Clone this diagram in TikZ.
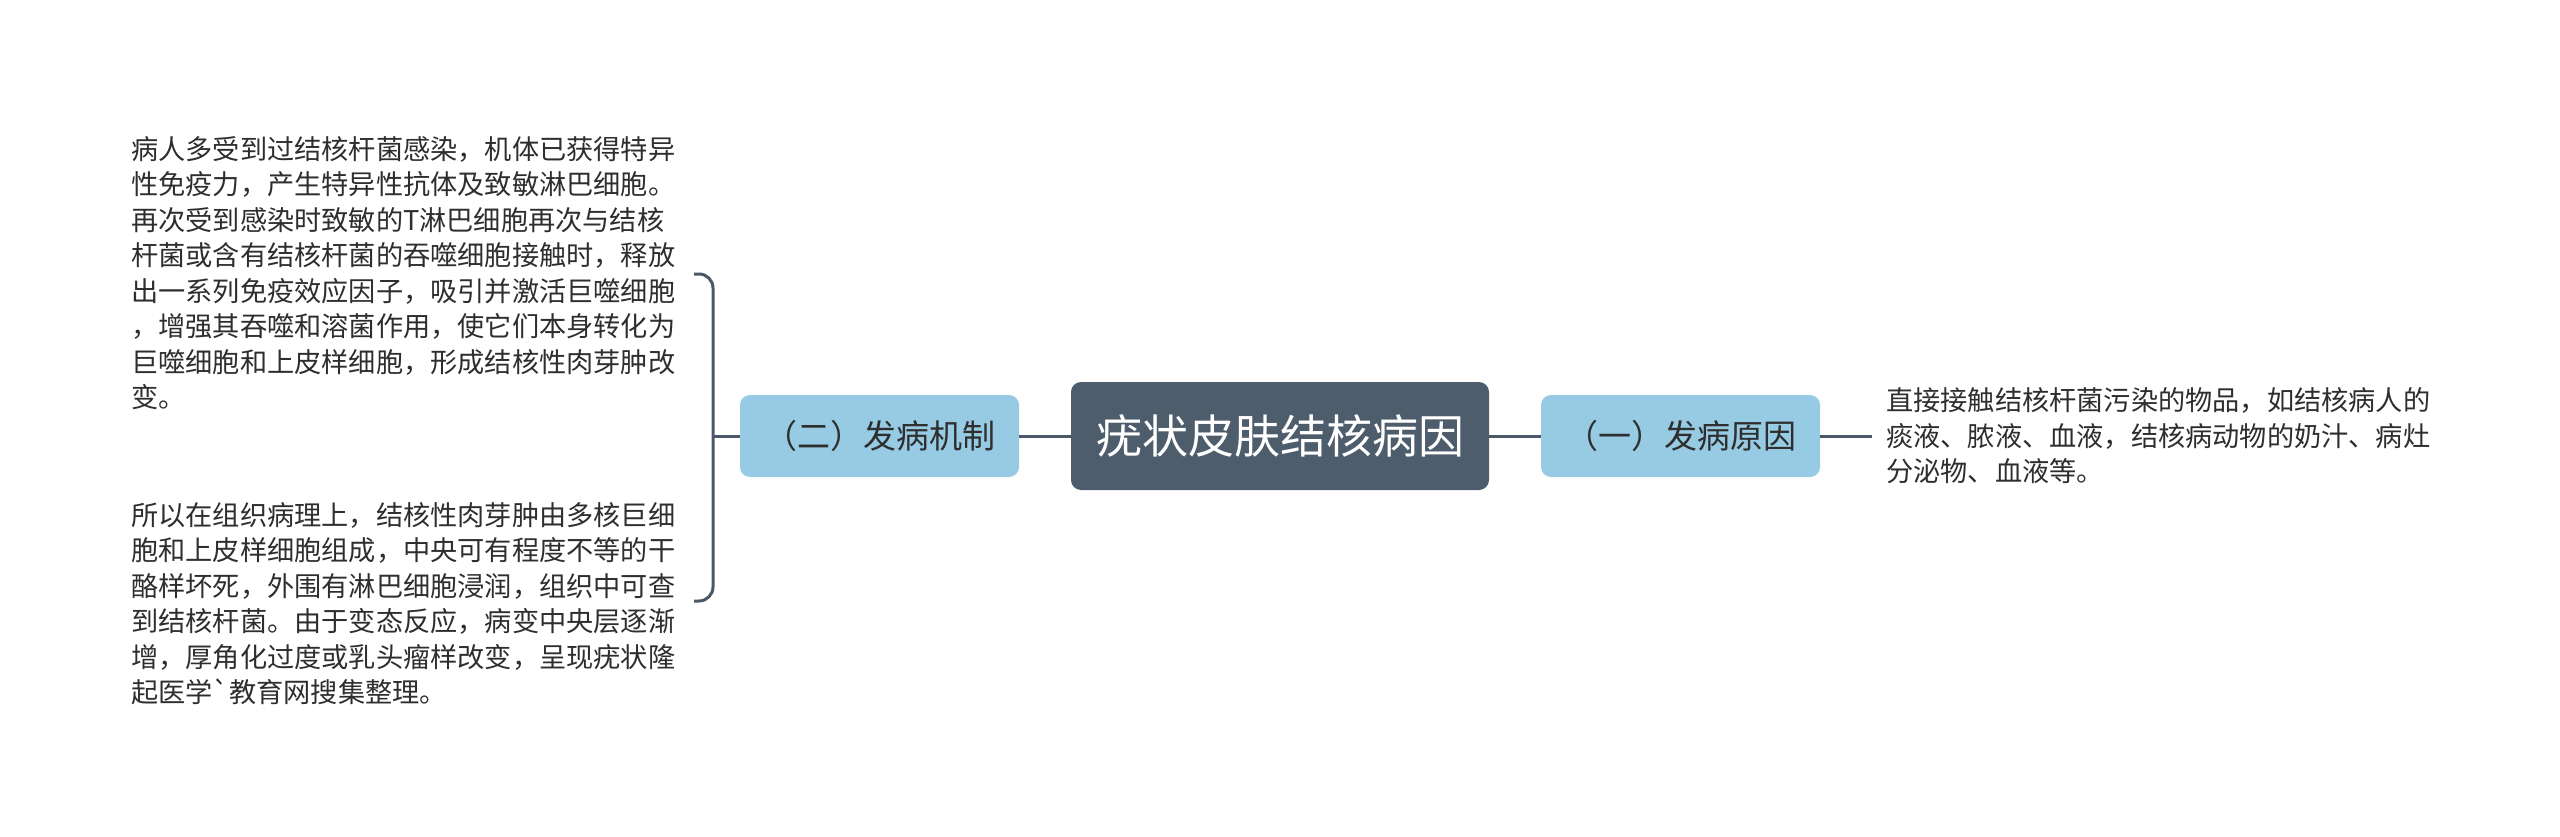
\documentclass[tikz,border=0pt]{standalone}
\usepackage{fontspec}
\newfontfamily\cjk{Noto Sans CJK SC}
\definecolor{slate}{HTML}{4E5D6C}
\definecolor{lineclr}{HTML}{4A5867}
\definecolor{branchfill}{HTML}{96CBE3}
\definecolor{txt}{HTML}{2E2E2E}
\begin{document}
\begin{tikzpicture}[x=1pt,y=-1pt,
  rootbox/.style={fill=slate, rounded corners=10pt, minimum width=418pt, minimum height=108pt, inner sep=0pt, text=white, font=\cjk\fontsize{46}{52}\selectfont},
  branchbox/.style={fill=branchfill, rounded corners=10pt, minimum width=279pt, minimum height=82pt, inner sep=0pt, text=txt, font=\cjk\fontsize{33}{40}\selectfont},
  leaf/.style={align=left, inner xsep=14pt, inner ysep=0pt, text=txt, font=\cjk\fontsize{27.2}{35.5}\selectfont},
  conn/.style={draw=lineclr, line width=3pt}]
\fill[white] (0,0) rectangle (2560,837);
\useasboundingbox (0,0) rectangle (2560,837);

\node[rootbox] (root) at (1280,436) {疣状皮肤结核病因};
\node[branchbox] (b2) at (879.5,436) {（二）发病机制};
\node[branchbox] (b1) at (1680.5,436) {（一）发病原因};

\node[leaf, anchor=west] (r1) at (1872,436) {直接接触结核杆菌污染的物品，如结核病人的\\痰液、脓液、血液，结核病动物的奶汁、病灶\\分泌物、血液等。};

\node[leaf, anchor=north west] (l1) at (117,136) {病人多受到过结核杆菌感染，机体已获得特异\\性免疫力，产生特异性抗体及致敏淋巴细胞。\\再次受到感染时致敏的T淋巴细胞再次与结核\\杆菌或含有结核杆菌的吞噬细胞接触时，释放\\出一系列免疫效应因子，吸引并激活巨噬细胞\\，增强其吞噬和溶菌作用，使它们本身转化为\\巨噬细胞和上皮样细胞，形成结核性肉芽肿改\\变。};
\node[leaf, anchor=north west] (l2) at (117,502) {所以在组织病理上，结核性肉芽肿由多核巨细\\胞和上皮样细胞组成，中央可有程度不等的干\\酪样坏死，外围有淋巴细胞浸润，组织中可查\\到结核杆菌。由于变态反应，病变中央层逐渐\\增，厚角化过度或乳头瘤样改变，呈现疣状隆\\起医学`教育网搜集整理。};

\coordinate (bx) at (713,436);
\coordinate (t1) at (694,274);
\coordinate (t2) at (694,601);

\draw[conn] (root.west) -- (b2.east);
\draw[conn] (root.east) -- (b1.west);
\draw[conn] (b1.east) -- (b1.east -| r1.west);
\draw[conn] (b2.west) -- (bx);
\draw[conn, rounded corners=14pt] (t1) -| (bx) |- (t2);
\end{tikzpicture}
\end{document}
